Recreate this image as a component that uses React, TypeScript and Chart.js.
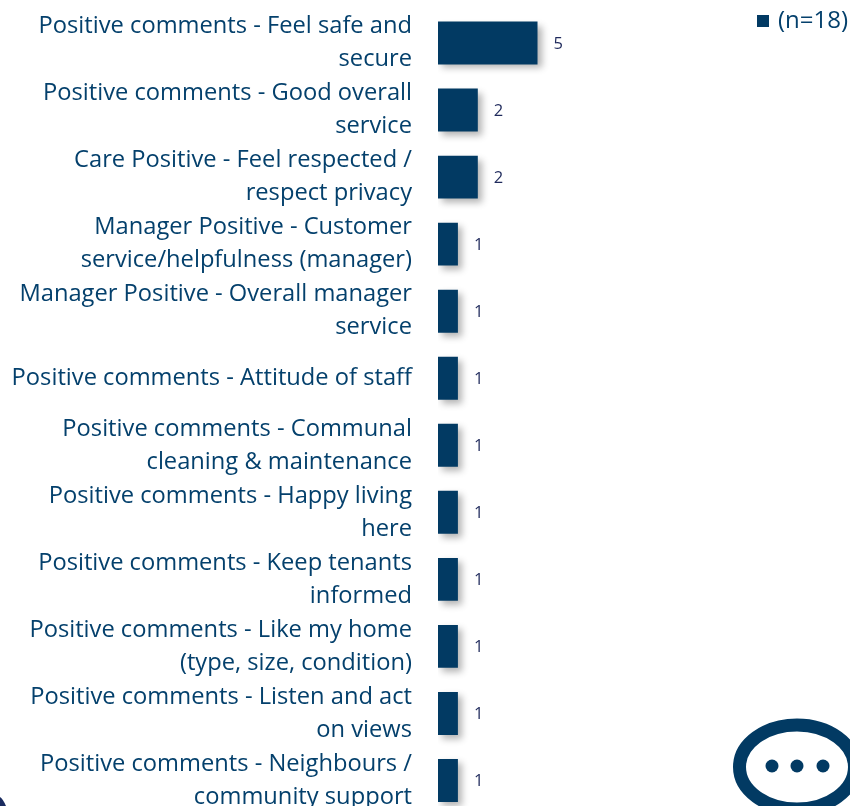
import React, { useEffect, useRef } from "react";
import { Chart, registerables } from "chart.js";

Chart.register(...registerables);

const categories: string[][] = [
  ["Positive comments - Feel safe and", "secure"],
  ["Positive comments - Good overall", "service"],
  ["Care Positive - Feel respected /", "respect privacy"],
  ["Manager Positive - Customer", "service/helpfulness (manager)"],
  ["Manager Positive - Overall manager", "service"],
  ["Positive comments - Attitude of staff"],
  ["Positive comments - Communal", "cleaning & maintenance"],
  ["Positive comments - Happy living", "here"],
  ["Positive comments - Keep tenants", "informed"],
  ["Positive comments - Like my home", "(type, size, condition)"],
  ["Positive comments - Listen and act", "on views"],
  ["Positive comments - Neighbours /", "community support"],
];
const values = [5, 2, 2, 1, 1, 1, 1, 1, 1, 1, 1, 1];
const seriesName = "(n=18)";

const NAVY = "#023a63";
const TEXT = "#04406c";
const VALUE_TEXT = "#1f2a5c";
const FONT = "'Open Sans', sans-serif";

const barShadow = {
  id: "barShadow",
  beforeDatasetsDraw(chart: any) {
    const c = chart.ctx;
    c.save();
    c.shadowColor = "rgba(0,0,0,0.3)";
    c.shadowBlur = 7;
    c.shadowOffsetX = 4;
    c.shadowOffsetY = 4;
  },
  afterDatasetsDraw(chart: any) {
    chart.ctx.restore();
  },
};

const valueLabels = {
  id: "valueLabels",
  afterDatasetsDraw(chart: any) {
    const c = chart.ctx;
    const meta = chart.getDatasetMeta(0);
    c.save();
    c.font = `16.5px ${FONT}`;
    c.fillStyle = VALUE_TEXT;
    c.textAlign = "left";
    c.textBaseline = "middle";
    meta.data.forEach((bar: any, i: number) => {
      c.fillText(String(values[i]), bar.x + 16, bar.y + 1);
    });
    c.restore();
  },
};

const cornerLegend = {
  id: "cornerLegend",
  afterDraw(chart: any) {
    const c = chart.ctx;
    const ds = chart.data.datasets[0];
    c.save();
    c.font = `24px ${FONT}`;
    c.fillStyle = ds.backgroundColor;
    c.fillRect(757, 15, 12, 12);
    c.fillStyle = TEXT;
    c.textAlign = "right";
    c.textBaseline = "middle";
    c.fillText(ds.label, 848, 21);
    c.restore();
  },
};

export default function App() {
  const ref = useRef<HTMLCanvasElement>(null);
  useEffect(() => {
    document.body.style.margin = "0";
    document.body.style.background = "#fff";
    const chart = new Chart(ref.current!, {
      type: "bar",
      data: {
        labels: categories as any,
        datasets: [
          {
            label: seriesName,
            data: values,
            backgroundColor: NAVY,
            borderWidth: 0,
            categoryPercentage: 1,
            barPercentage: 0.64,
          },
        ],
      },
      options: {
        indexAxis: "y",
        responsive: false,
        animation: false,
        devicePixelRatio: 1,
        layout: { padding: { top: 9.5, left: 0, right: 0, bottom: 0 } },
        plugins: {
          tooltip: { enabled: false },
          legend: { display: false },
        },
        scales: {
          x: {
            display: false,
            min: 0,
            max: 20.7,
            grid: { display: false },
          },
          y: {
            grid: { display: false },
            border: { display: false },
            afterFit(scale: any) {
              scale.width = 438;
              scale.paddingTop = 0;
              scale.paddingBottom = 0;
            },
            ticks: {
              autoSkip: false,
              padding: 18,
              color: TEXT,
              font: { family: FONT, size: 23.7, lineHeight: "33px" },
            },
          },
        },
      },
      plugins: [barShadow, valueLabels, cornerLegend],
    } as any);
    return () => chart.destroy();
  }, []);

  return (
    <div style={{ position: "relative", width: 850, height: 806, overflow: "hidden" }}>
      <canvas ref={ref} width={850} height={814} style={{ display: "block" }} />
      <svg
        width={850}
        height={806}
        style={{ position: "absolute", left: 0, top: 0, pointerEvents: "none" }}
      >
        <path d="M0 806 L0 797 Q3 799 6 806 Z" fill="#1a2b5f" />
        <ellipse cx={797} cy={767} rx={57.5} ry={42} fill="#fff" stroke={NAVY} strokeWidth={13} />
        <circle cx={772} cy={766} r={6.5} fill={NAVY} />
        <circle cx={797} cy={766} r={6.5} fill={NAVY} />
        <circle cx={823} cy={766} r={6.5} fill={NAVY} />
      </svg>
    </div>
  );
}
